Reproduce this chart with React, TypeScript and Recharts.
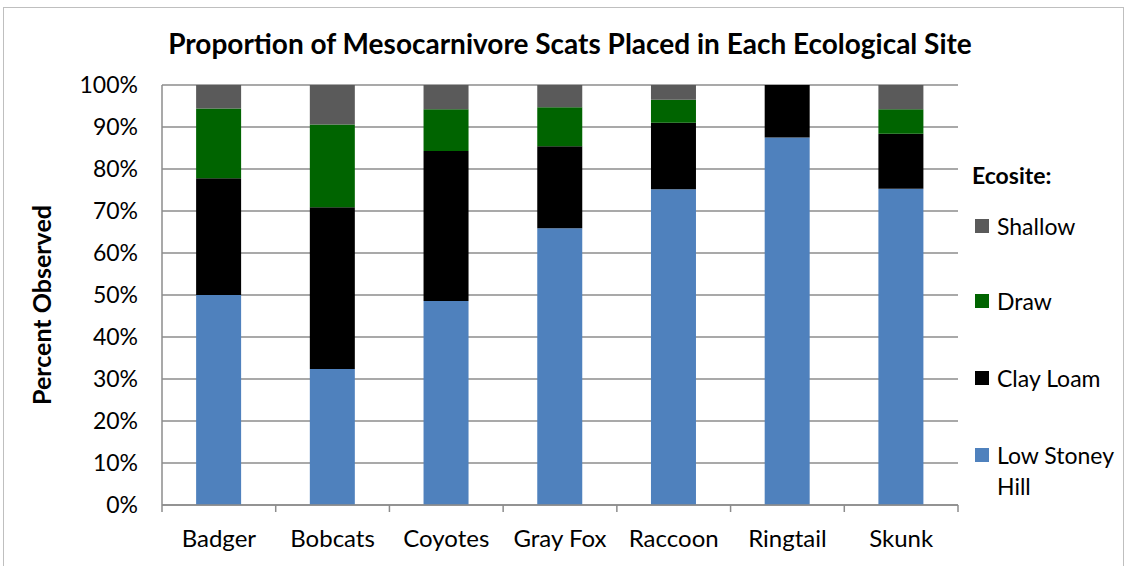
import React from "react";
import { BarChart, Bar, XAxis, YAxis, CartesianGrid } from "recharts";

const categories = ["Badger", "Bobcats", "Coyotes", "Gray Fox", "Raccoon", "Ringtail", "Skunk"];
const lowStoneyHill = [50.0, 32.4, 48.6, 65.9, 75.2, 87.5, 75.3];
const clayLoam = [27.8, 38.5, 35.7, 19.5, 15.8, 12.5, 13.1];
const draw = [16.6, 19.7, 9.9, 9.3, 5.5, 0, 5.8];
const shallow = [5.6, 9.4, 5.8, 5.3, 3.5, 0, 5.8];
const yTicks = [0, 10, 20, 30, 40, 50, 60, 70, 80, 90, 100];

const series = [
  { key: "lsh", name: "Low Stoney Hill", color: "#4f81bd" },
  { key: "cl", name: "Clay Loam", color: "#000000" },
  { key: "draw", name: "Draw", color: "#006400" },
  { key: "shallow", name: "Shallow", color: "#5a5a5a" },
];

const data = categories.map((name, i) => ({
  name,
  lsh: lowStoneyHill[i],
  cl: clayLoam[i],
  draw: draw[i],
  shallow: shallow[i],
}));

const FONT = "Lato, 'Open Sans', sans-serif";

const XTick = (props: any) => {
  const { x, y, payload, index, width } = props;
  const half = payload && typeof payload.offset === "number" && payload.offset > 0
    ? payload.offset
    : width / categories.length / 2;
  return (
    <g>
      <line x1={x - half} x2={x - half} y1={y} y2={y + 7} stroke="#8c8c8c" strokeWidth={1.5} />
      {index === categories.length - 1 && (
        <line x1={x + half} x2={x + half} y1={y} y2={y + 7} stroke="#8c8c8c" strokeWidth={1.5} />
      )}
      <text x={x} y={y + 42} textAnchor="middle" fill="#000" fontSize={24} fontFamily={FONT}>
        {payload.value}
      </text>
    </g>
  );
};

const legendCenters = [226, 301, 378, 455];

function LegendBox() {
  const items = [...series].reverse();
  return (
    <div style={{ position: "absolute", left: 0, top: 0, fontFamily: FONT, fontSize: 23, color: "#000" }}>
      <div style={{ position: "absolute", left: 972, top: 175 - 15, lineHeight: "31px", fontWeight: 700, whiteSpace: "nowrap" }}>Ecosite:</div>
      {items.map((it, i) => {
        const c = legendCenters[i];
        return (
          <div key={it.key}>
            <span style={{ position: "absolute", left: 975, top: c - 7, width: 14, height: 14, background: it.color }} />
            <div style={{ position: "absolute", left: 997, top: c - 15, lineHeight: "31px", whiteSpace: "nowrap" }}>
              {it.name === "Low Stoney Hill" ? <>Low Stoney<br />Hill</> : it.name}
            </div>
          </div>
        );
      })}
    </div>
  );
}

export default function App() {
  return (
    <div style={{ position: "absolute", left: 0, top: 0, width: 1127, height: 566, background: "#fff", overflow: "hidden" }}>
      <div style={{ position: "absolute", left: 3, top: 7, width: 1121, height: 600, border: "1px solid #bfbfbf", boxSizing: "border-box" }} />
      <div style={{ position: "absolute", left: 0, top: 26, width: 1140, textAlign: "center", lineHeight: "34px", fontFamily: FONT, fontWeight: 700, fontSize: 28, color: "#000", whiteSpace: "nowrap" }}>
        Proportion of Mesocarnivore Scats Placed in Each Ecological Site
      </div>
      <div style={{ position: "absolute", left: 41, top: 305, transform: "translate(-50%, -50%) rotate(-90deg)", whiteSpace: "nowrap", fontFamily: FONT, fontWeight: 700, fontSize: 25, color: "#000" }}>
        Percent Observed
      </div>
      <div style={{ position: "absolute", left: 0, top: 0 }}>
        <BarChart
          width={1127}
          height={566}
          data={data}
          margin={{ top: 85, right: 169, bottom: 0, left: 0 }}
          barCategoryGap="30%"
        >
          <CartesianGrid vertical={false} stroke="#8c8c8c" strokeWidth={1.5} />
          <XAxis
            dataKey="name"
            height={61}
            tickLine={false}
            tickSize={0}
            tickMargin={0}
            axisLine={{ stroke: "#8c8c8c", strokeWidth: 1.5 }}
            tick={<XTick />}
            interval={0}
          />
          <YAxis
            width={162}
            domain={[0, 100]}
            ticks={yTicks}
            tickFormatter={(v: number) => `${v}%`}
            tickLine={false}
            tickSize={0}
            tickMargin={24}
            axisLine={{ stroke: "#8c8c8c", strokeWidth: 1.5 }}
            tick={{ fill: "#000", fontSize: 23, fontFamily: FONT }}
            allowDataOverflow
          />
          {series.map((s) => (
            <Bar key={s.key} dataKey={s.key} name={s.name} stackId="a" fill={s.color} isAnimationActive={false} />
          ))}
        </BarChart>
      </div>
      <LegendBox />
    </div>
  );
}
